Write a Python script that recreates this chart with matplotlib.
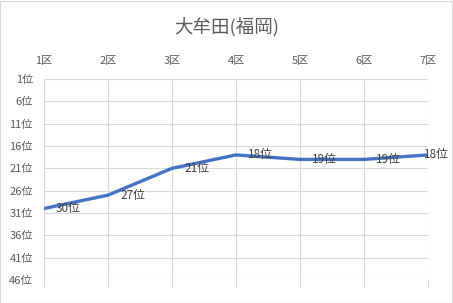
import matplotlib
matplotlib.use("Agg")
import matplotlib.pyplot as plt
from matplotlib.patches import Rectangle

plt.rcParams['font.family'] = ['Noto Sans CJK JP', 'DejaVu Sans']

categories = ["1区", "2区", "3区", "4区", "5区", "6区", "7区"]
ranks = [30, 27, 21, 18, 19, 19, 18]
yticks = [1, 6, 11, 16, 21, 26, 31, 36, 41, 46]
ytick_labels = [f"{v}位" for v in yticks]
title = "大牟田(福岡)"

fig = plt.figure(figsize=(4.53, 3.03), dpi=100)
fig.patch.set_facecolor("white")
fig.patches.append(Rectangle((0.001, 0.001), 0.997, 0.996, transform=fig.transFigure,
                             fill=False, edgecolor="#D9D9D9", linewidth=0.8))

ax = fig.add_axes([44/453, 1-280/303, (428-44)/453, (280-79)/303])
x = list(range(len(categories)))
ax.plot(x, ranks, color="#4472C4", linewidth=2.4, solid_capstyle="round", zorder=3)
for i, (xi, r) in enumerate(zip(x, ranks)):
    off = 12 if i < len(x) - 1 else -4
    ax.annotate(f"{r}位", (xi, r), xytext=(off, 0), textcoords="offset pixels",
                ha="left", va="center", fontsize=8.5, color="#404040", zorder=4)

ax.set_xlim(0, len(categories) - 1)
ax.set_ylim(46, 1)
ax.set_yticks(yticks)
ax.set_yticklabels(ytick_labels)
ax.set_xticks(x)
ax.set_xticklabels(categories)
ax.xaxis.tick_top()
ax.tick_params(axis="x", which="both", top=False, bottom=True, labeltop=True, labelbottom=False,
               length=5, color="#D9D9D9", pad=4.6, labelsize=8, labelcolor="#595959")
ax.tick_params(axis="y", length=0, pad=8, labelsize=8, labelcolor="#595959")
ax.grid(True, color="#D9D9D9", linewidth=0.8)
ax.set_axisbelow(True)
for s in ax.spines.values():
    s.set_visible(False)

fig.text(0.5, 1 - 27/303, title, ha="center", va="center", fontsize=13.3, color="#595959")

fig.savefig("out.png", dpi=100)
